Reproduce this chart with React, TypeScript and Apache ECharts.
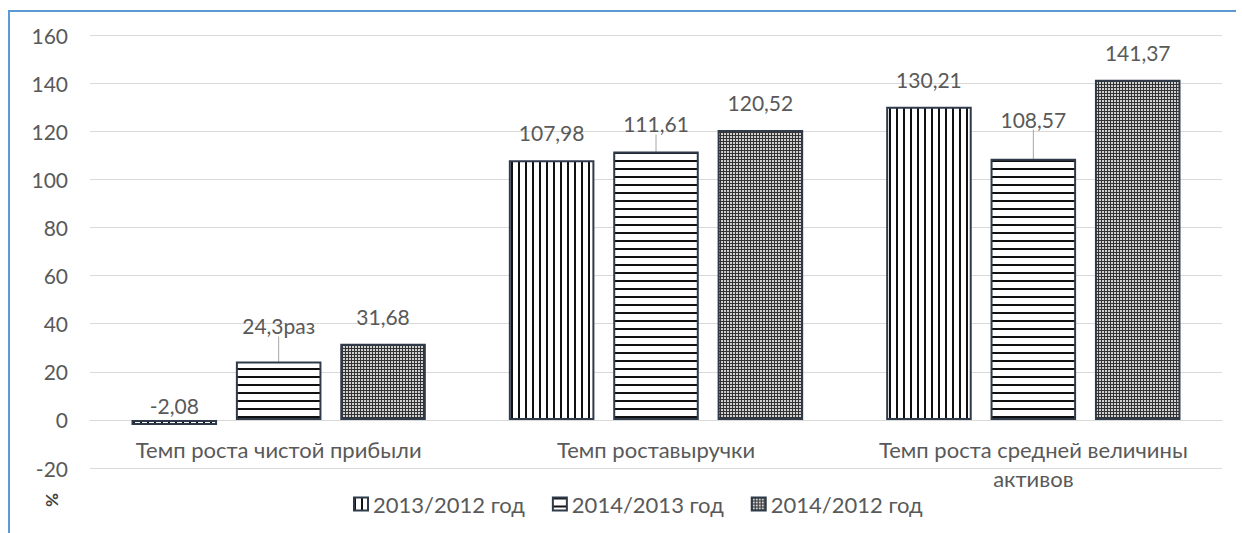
import React, { useEffect, useRef } from "react";
import * as echarts from "echarts";

const categories = [
  "Темп роста чистой прибыли",
  "Темп роставыручки",
  "Темп роста средней величины\nактивов",
];
const seriesNames = ["2013/2012 год", "2014/2013 год", "2014/2012 год"];
const values2013_2012 = [-2.08, 107.98, 130.21];
const values2014_2013 = [24.3, 111.61, 108.57];
const values2014_2012 = [31.68, 120.52, 141.37];
const labels2014_2013 = ["24,3раз", "111,61", "108,57"];
const yTicks = { min: -20, max: 160, interval: 20 };

const FONT = "Lato, 'Open Sans', sans-serif";
const TEXT = "#595959";
const BORDER = "#2f3b4b";
const FRAME = "#5b9bd5";

function makePattern(kind: string) {
  const c = document.createElement("canvas");
  let w = 7, h = 7;
  if (kind === "v") { w = 7; h = 4; }
  if (kind === "h") { w = 4; h = 8; }
  if (kind === "d") { w = 3; h = 3; }
  c.width = w; c.height = h;
  const ctx = c.getContext("2d")!;
  if (kind === "v") {
    ctx.fillStyle = "#ffffff"; ctx.fillRect(0, 0, w, h);
    ctx.fillStyle = "#111111"; ctx.fillRect(0, 0, 2, h);
  } else if (kind === "h") {
    ctx.fillStyle = "#ffffff"; ctx.fillRect(0, 0, w, h);
    ctx.fillStyle = "#111111"; ctx.fillRect(0, 0, w, 2);
  } else {
    ctx.fillStyle = "#333333"; ctx.fillRect(0, 0, w, h);
    ctx.fillStyle = "#d0d0d0"; ctx.fillRect(1, 1, 2, 2);
  }
  return { image: c, repeat: "repeat", imageWidth: w, imageHeight: h } as any;
}

const fmt = (v: number) => v.toFixed(2).replace(".", ",");

export default function App() {
  const ref = useRef<HTMLDivElement>(null);
  useEffect(() => {
    const chart = echarts.init(ref.current!, null, { renderer: "svg" });
    const labelBase = {
      show: true,
      position: "top",
      distance: 17,
      fontSize: 21,
      fontFamily: FONT,
      color: TEXT,
    };
    const itemBase = { borderColor: BORDER, borderWidth: 2 };
    chart.setOption({
      animation: false,
      backgroundColor: "#ffffff",
      grid: { left: 90, right: 20, top: 35, bottom: 65, outerBoundsMode: "none", containLabel: false },
      legend: {
        left: 353,
        top: 493,
        padding: 0,
        itemWidth: 14,
        itemHeight: 13,
        itemGap: 27,
        icon: "rect",
        textStyle: { fontSize: 22, fontFamily: FONT, color: TEXT },
        data: seriesNames,
      },
      xAxis: {
        type: "category",
        data: categories,
        offset: -48,
        axisLine: { show: true, onZero: false, lineStyle: { color: "#d9d9d9", width: 1 } },
        axisTick: { show: false },
        axisLabel: {
          fontSize: 22,
          fontFamily: FONT,
          color: TEXT,
          lineHeight: 29,
          margin: 15,
          interval: 0,
        },
      },
      yAxis: {
        type: "value",
        min: yTicks.min,
        max: yTicks.max,
        interval: yTicks.interval,
        axisLine: { show: false },
        axisTick: { show: false },
        splitLine: { lineStyle: { color: "#d9d9d9", width: 1 } },
        axisLabel: { fontSize: 21, fontFamily: FONT, color: TEXT, margin: 22 },
      },
      graphic: [
        {
          type: "text",
          x: 52,
          y: 500,
          rotation: -Math.PI / 2,
          style: {
            text: "%",
            fontSize: 17,
            fontFamily: FONT,
            fill: "#404040",
            fontWeight: "bold",
            align: "center",
            verticalAlign: "middle",
          },
        },
      ],
      series: [
        {
          name: seriesNames[0],
          type: "bar",
          barCategoryGap: "22%",
          barGap: "22%",
          data: values2013_2012.map((v) =>
            v < 0 ? { value: v, label: { distance: 4 } } : v
          ),
          itemStyle: { ...itemBase, color: makePattern("v") },
          label: { ...labelBase, formatter: (p: any) => fmt(p.value) },
        },
        {
          name: seriesNames[1],
          type: "bar",
          barGap: "22%",
          data: values2014_2013,
          itemStyle: { ...itemBase, color: makePattern("h") },
          label: { ...labelBase, formatter: (p: any) => labels2014_2013[p.dataIndex] },
          labelLine: { show: true, lineStyle: { color: "#a6a6a6", width: 1 } },
          labelLayout: (p: any) => {
            if (p.dataIndex === 0) return { dy: -8 };
            if (p.dataIndex === 2) return { dy: -12 };
            return {};
          },
        },
        {
          name: seriesNames[2],
          type: "bar",
          barGap: "22%",
          data: values2014_2012,
          itemStyle: { ...itemBase, color: makePattern("d") },
          label: { ...labelBase, formatter: (p: any) => fmt(p.value) },
        },
      ],
    });
    return () => chart.dispose();
  }, []);
  return (
    <div style={{ position: "fixed", left: 0, top: 0, width: 1242, height: 533, background: "#fff" }}>
      <div ref={ref} style={{ position: "absolute", left: 0, top: 0, width: 1242, height: 533 }} />
      <div style={{ position: "absolute", left: 8, top: 10, width: 2, height: 523, background: FRAME }} />
      <div style={{ position: "absolute", left: 8, top: 10, width: 1228, height: 2, background: FRAME }} />
    </div>
  );
}
